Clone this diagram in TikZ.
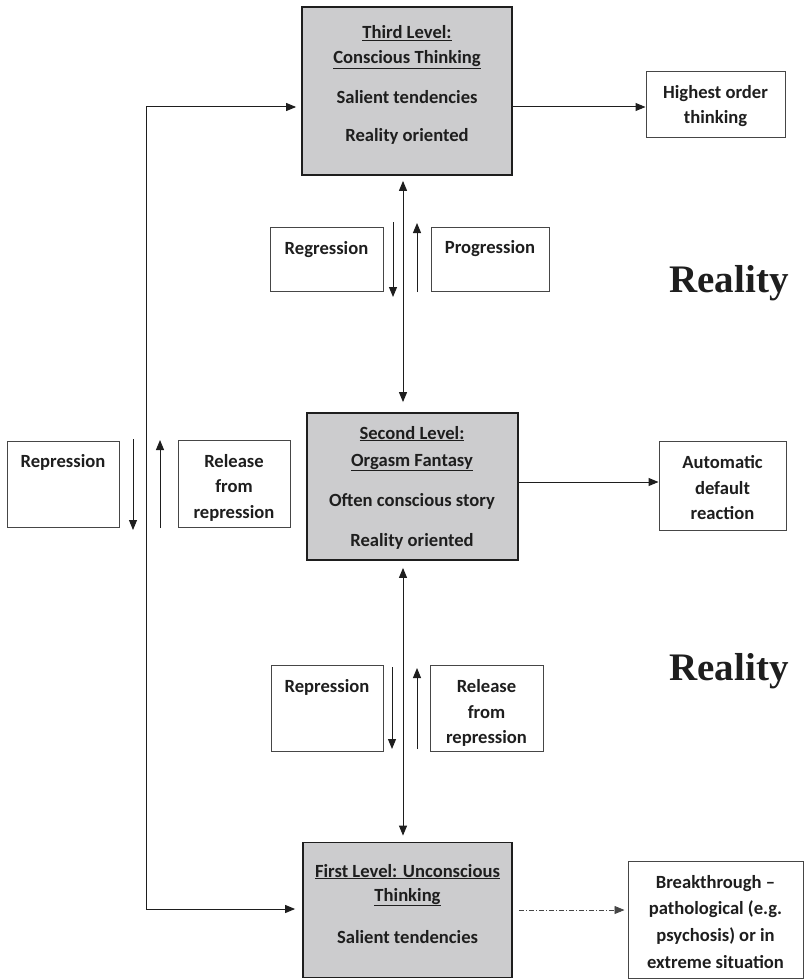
\documentclass[tikz,border=0pt]{standalone}
\usepackage{fontspec}
\setmainfont{Carlito}
\newfontfamily\realfont{Liberation Serif}
\usetikzlibrary{arrows.meta}
\definecolor{boxgray}{RGB}{204,204,206}
\definecolor{ink}{RGB}{30,30,30}
\definecolor{linegray}{RGB}{70,70,70}
\begin{document}
\begin{tikzpicture}[x=1pt,y=-1pt,
  mainbox/.style={draw=ink,line width=1.8pt,fill=boxgray,inner sep=0pt},
  smallbox/.style={draw=linegray,line width=1pt,fill=white,inner sep=0pt},
  txt/.style={font=\fontsize{18.6}{22}\selectfont\bfseries,text=ink,anchor=base,inner sep=0pt},
  bigtxt/.style={font=\fontsize{39}{44}\selectfont\realfont\bfseries,text=ink,inner sep=0pt},
  arr/.style={draw=ink,line width=1pt,-{Triangle[length=10pt,width=8pt]}},
  darr/.style={draw=ink,line width=1pt,{Triangle[length=10pt,width=8pt]}-{Triangle[length=10pt,width=8pt]}},
  dashdot/.style={draw=linegray,line width=0.8pt,dash pattern=on 5pt off 2pt on 1pt off 2pt,-{Triangle[length=10pt,width=8pt]}}
]
\useasboundingbox (0,0) rectangle (804,979);

% main boxes
\node[mainbox,minimum width=210pt,minimum height=168pt] (third) at (407,91) {};
\node[mainbox,minimum width=211pt,minimum height=147pt] (second) at (412.5,486.5) {};
\node[mainbox,minimum width=209pt,minimum height=135pt] (first) at (407.5,910) {};

% side boxes
\node[smallbox,minimum width=139pt,minimum height=65pt] (highest) at (715.5,104.5) {};
\node[smallbox,minimum width=127pt,minimum height=89pt] (auto) at (722.5,485.5) {};
\node[smallbox,minimum width=175pt,minimum height=117pt] (break) at (715.5,919.5) {};

\node[smallbox,minimum width=113pt,minimum height=64pt] (regr) at (326.5,259) {};
\node[smallbox,minimum width=118pt,minimum height=64pt] (progr) at (490,259) {};
\node[smallbox,minimum width=112pt,minimum height=86pt] (lrep) at (63,484) {};
\node[smallbox,minimum width=112pt,minimum height=87pt] (lrel) at (234,483.5) {};
\node[smallbox,minimum width=112pt,minimum height=86pt] (brep) at (327,708) {};
\node[smallbox,minimum width=113pt,minimum height=86pt] (brel) at (486.5,708) {};

% texts: third box
\node[txt] (t3a) at (407,39) {\underline{Third Level:}};
\node[txt] (t3b) at (407,64) {\underline{Conscious Thinking}};
\node[txt] (t3c) at (407,103) {Salient tendencies};
\node[txt] (t3d) at (407,141) {Reality oriented};
% second box
\node[txt] (t2a) at (412,439) {\underline{Second Level:}};
\node[txt] (t2b) at (412,466) {\underline{Orgasm Fantasy}};
\node[txt] (t2c) at (412,506) {Often conscious story};
\node[txt] (t2d) at (412,546) {Reality oriented};
% first box
\node[txt] (t1a) at (407.5,877) {\underline{First Level: Unconscious}};
\node[txt] (t1b) at (407.5,901) {\underline{Thinking}};
\node[txt] (t1c) at (407.5,943) {Salient tendencies};
% side texts
\node[txt] (hia) at (715.5,99) {Highest order};
\node[txt] (hib) at (715.5,124) {thinking};
\node[txt] (aua) at (722.5,468) {Automatic};
\node[txt] (aub) at (722.5,494) {default};
\node[txt] (auc) at (722.5,519) {reaction};
\node[txt] (bra) at (715.5,888) {Breakthrough –};
\node[txt] (brb) at (715.5,914) {pathological (e.g.};
\node[txt] (brc) at (715.5,941) {psychosis) or in};
\node[txt] (brd) at (715.5,968) {extreme situation};
\node[txt] (rga) at (326.5,254) {Regression};
\node[txt] (pga) at (490,253) {Progression};
\node[txt] (lra) at (63,467) {Repression};
\node[txt] (lla) at (234,467) {Release};
\node[txt] (llb) at (234,492) {from};
\node[txt] (llc) at (234,518) {repression};
\node[txt] (bra2) at (327,692) {Repression};
\node[txt] (bla) at (486.5,692) {Release};
\node[txt] (blb) at (486.5,718) {from};
\node[txt] (blc) at (486.5,743) {repression};

\node[bigtxt] (real1) at (729,283) {Reality};
\node[bigtxt] (real2) at (729,671) {Reality};

% coordinates for left loop
\coordinate (lt) at (146,107);
\coordinate (lb) at (146,909);
\draw[darr,shorten <=5pt,shorten >=7pt] (third.west |- lt) -- (lt) -- (lb) -- (first.west |- lb);

% right arrows
\draw[arr] (third.east |- 0,107) -- (highest.west |- 0,107);
\draw[arr] (second.east |- 0,482) -- (auto.west |- 0,482);
\draw[dashdot] ([xshift=6pt]first.east |- 0,910) -- ([xshift=-3pt]break.west |- 0,910);

% vertical double arrows
\coordinate (v1) at (403,0);
\draw[darr,shorten <=5pt,shorten >=10pt] (third.south -| v1) -- (second.north -| v1);
\draw[darr,shorten <=7pt,shorten >=6pt] (second.south -| v1) -- (first.north -| v1);

% small direction arrows
\coordinate (ra1) at (393,222); \coordinate (ra2) at (393,297);
\draw[arr] (ra1) -- (ra2);
\coordinate (pa1) at (417,292); \coordinate (pa2) at (417,223);
\draw[arr] (pa1) -- (pa2);
\coordinate (la1) at (133,439); \coordinate (la2) at (133,530);
\draw[arr] (la1) -- (la2);
\coordinate (lu1) at (160,528); \coordinate (lu2) at (160,440);
\draw[arr] (lu1) -- (lu2);
\coordinate (ba1) at (392,667); \coordinate (ba2) at (392,749);
\draw[arr] (ba1) -- (ba2);
\coordinate (bu1) at (417,749); \coordinate (bu2) at (417,668);
\draw[arr] (bu1) -- (bu2);
\end{tikzpicture}
\end{document}
